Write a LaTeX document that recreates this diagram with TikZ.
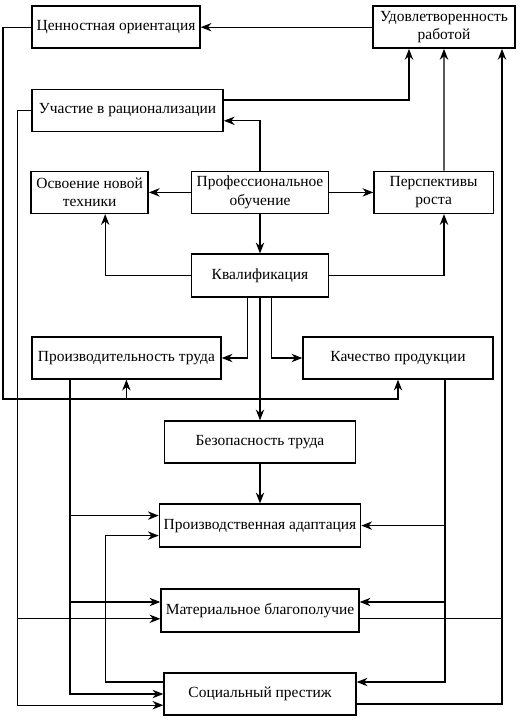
\documentclass[tikz,border=0pt]{standalone}
\usepackage{fontspec}
\setmainfont{Liberation Serif}
\usetikzlibrary{arrows.meta, positioning, calc}

\begin{document}
\begin{tikzpicture}[
        box/.style={draw, line width=1pt, minimum height=1.05cm, align=center, inner sep=2pt, font=\fontsize{11}{13}\selectfont},
        arr/.style={-{Stealth[length=2.7mm, width=2.1mm]}, line width=0.8pt},
        ln/.style={line width=0.8pt}]
        \useasboundingbox (0,0) rectangle (13.275,-18.125);

        % top row
        \node[box, minimum width=4.2cm]  (cen)  at (2.9,-0.68)  {Ценностная ориентация};
        \node[box, minimum width=3.55cm] (udov) at (11.1,-0.68) {Удовлетворенность\\работой};
        \node[box, minimum width=4.78cm] (uch)  at (3.19,-2.76) {Участие в рационализации};

        % training and qualification
        \node[box, minimum width=2.93cm] (osv)   at (2.24,-4.81)  {Освоение новой\\техники};
        \node[box, minimum width=3.43cm] (prof)  at (6.5,-4.81)   {Профессиональное\\обучение};
        \node[box, minimum width=2.98cm] (persp) at (10.84,-4.81) {Перспективы\\роста};
        \node[box, minimum width=3.43cm, minimum height=1.075cm] (kval) at (6.5,-6.89) {Квалификация};

        % results
        \node[box, minimum width=4.73cm] (proizv) at (3.16,-8.95) {Производительность труда};
        \node[box, minimum width=4.75cm] (kach)   at (9.95,-8.95) {Качество продукции};
        \node[box, minimum width=4.78cm] (bez)    at (6.5,-11.05) {Безопасность труда};
        \node[box, minimum width=5.03cm, minimum height=1.075cm] (adapt) at (6.5,-13.14) {Производственная адаптация};
        \node[box, minimum width=4.95cm, minimum height=1.075cm] (mat)   at (6.5,-15.26) {Материальное благополучие};
        \node[box, minimum width=4.8cm]  (soc)    at (6.5,-17.35) {Социальный престиж};

        % entry points on the lower boxes
        \coordinate (a1) at ([yshift=0.25cm]adapt.west);
        \coordinate (a2) at ([yshift=-0.25cm]adapt.west);
        \coordinate (m1) at ([yshift=0.21cm]mat.west);
        \coordinate (m2) at ([yshift=-0.21cm]mat.west);
        \coordinate (m3) at ([yshift=0.21cm]mat.east);
        \coordinate (m4) at ([yshift=-0.21cm]mat.east);
        \coordinate (s1) at ([yshift=0.3cm]soc.west);
        \coordinate (s3) at ([yshift=-0.28cm]soc.west);

        % professional training
        \draw[arr] (prof.west) -- (osv.east);
        \draw[arr] (prof.east) -- (persp.west);
        \draw[arr] (prof) -- (kval);
        \draw[arr] (prof.north) |- ([yshift=-0.26cm]uch.east);

        % qualification
        \draw[arr] (kval.west) -| ([xshift=0.39cm]osv.south);
        \draw[arr] (kval.east) -| ([xshift=0.26cm]persp.south);
        \draw[arr] ([xshift=-0.31cm]kval.south) |- (proizv.east);
        \draw[arr] ([xshift=0.29cm]kval.south) |- (kach.west);
        \draw[arr] (kval) -- (bez);
        \draw[arr] (bez) -- (adapt);

        % job satisfaction
        \draw[arr] (udov.west) -- (cen.east);
        \draw[arr] ([yshift=0.26cm]uch.east) -| ([xshift=-0.875cm]udov.south);
        \draw[arr] ([xshift=0.26cm]persp.north) -- (udov.south);

        % value orientation
        \coordinate (lb) at (0.075,-9.975);
        \draw[arr] (cen.west) -| (lb) -| (kach.south);
        \draw[arr] (lb -| proizv.south) -- (proizv.south);

        % rationalisation
        \coordinate (lc) at ([xshift=-0.35cm]uch.west);
        \draw[arr] (uch.west) -- (lc) |- (s3);
        \draw[arr] (lc |- m2) -- (m2);

        % productivity
        \coordinate (pq) at ([xshift=-1.41cm]proizv.south);
        \draw[arr] (pq) |- (soc.west);
        \draw[arr] (pq |- a1) -- (a1);
        \draw[arr] (pq |- m1) -- (m1);

        % prestige back to adaptation
        \draw[arr] (s1) -- ++(-1.45,0) |- (a2);

        % quality
        \coordinate (kq) at ([xshift=1.175cm]kach.south);
        \draw[arr] (kq) |- ([yshift=0.3cm]soc.east);
        \draw[arr] (kq |- adapt.east) -- (adapt.east);
        \draw[arr] (kq |- m3) -- (m3);

        % wellbeing and prestige
        \coordinate (rt) at ([xshift=1.45cm]udov.south);
        \draw[arr] ([yshift=-0.25cm]soc.east) -| (rt);
        \draw[ln] (m4) -- (m4 -| rt);
    \end{tikzpicture}
\end{document}
